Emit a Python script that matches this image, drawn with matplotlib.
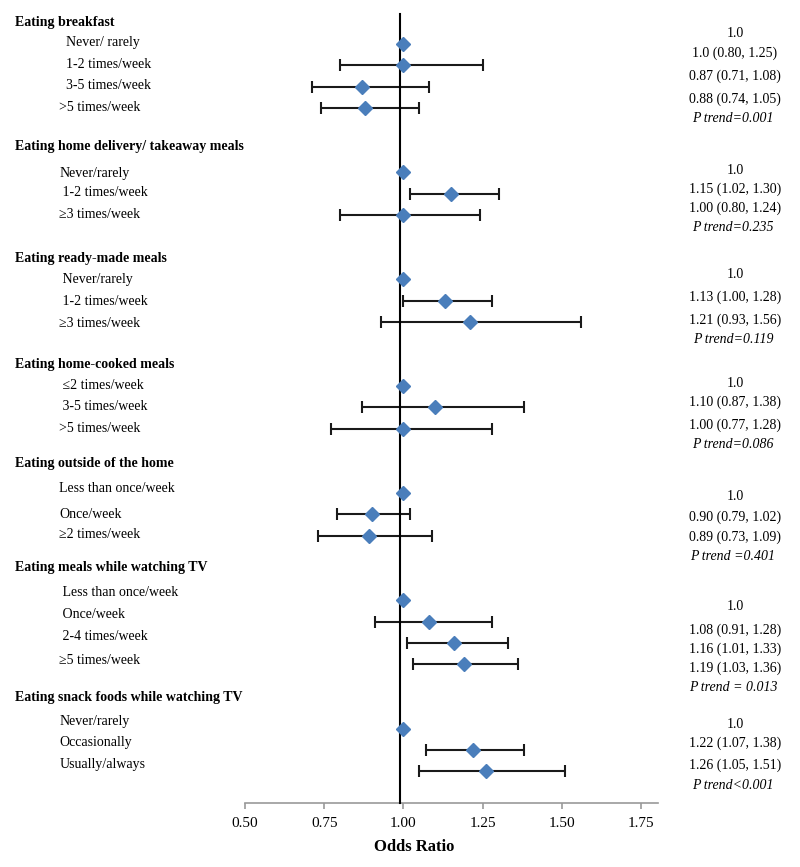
import matplotlib
matplotlib.use("Agg")
import matplotlib.pyplot as plt
from matplotlib.transforms import blended_transform_factory

plt.rcParams['font.family'] = ['Liberation Serif', 'DejaVu Serif']

# ---------------- data ----------------
group_titles = [
    "Eating breakfast",
    "Eating home delivery/ takeaway meals",
    "Eating ready-made meals",
    "Eating home-cooked meals",
    "Eating outside of the home",
    "Eating meals while watching TV",
    "Eating snack foods while watching TV",
]

row_labels = [
    ["  Never/ rarely", "  1-2 times/week", "  3-5 times/week", ">5 times/week"],
    ["Never/rarely", " 1-2 times/week", "\u22653 times/week"],
    [" Never/rarely", " 1-2 times/week", "\u22653 times/week"],
    [" \u22642 times/week", " 3-5 times/week", ">5 times/week"],
    ["Less than once/week", "Once/week", "\u22652 times/week"],
    [" Less than once/week", " Once/week", " 2-4 times/week", "\u22655 times/week"],
    ["Never/rarely", "Occasionally", "Usually/always"],
]

odds_ratio = [
    [1.0, 1.0, 0.87, 0.88],
    [1.0, 1.15, 1.00],
    [1.0, 1.13, 1.21],
    [1.0, 1.10, 1.00],
    [1.0, 0.90, 0.89],
    [1.0, 1.08, 1.16, 1.19],
    [1.0, 1.22, 1.26],
]
ci_low = [
    [None, 0.80, 0.71, 0.74],
    [None, 1.02, 0.80],
    [None, 1.00, 0.93],
    [None, 0.87, 0.77],
    [None, 0.79, 0.73],
    [None, 0.91, 1.01, 1.03],
    [None, 1.07, 1.05],
]
ci_high = [
    [None, 1.25, 1.08, 1.05],
    [None, 1.30, 1.24],
    [None, 1.28, 1.56],
    [None, 1.38, 1.28],
    [None, 1.02, 1.09],
    [None, 1.28, 1.33, 1.36],
    [None, 1.38, 1.51],
]
estimate_texts = [
    ["1.0", "1.0 (0.80, 1.25)", "0.87 (0.71, 1.08)", "0.88 (0.74, 1.05)"],
    ["1.0", "1.15 (1.02, 1.30)", "1.00 (0.80, 1.24)"],
    ["1.0", "1.13 (1.00, 1.28)", "1.21 (0.93, 1.56)"],
    ["1.0", "1.10 (0.87, 1.38)", "1.00 (0.77, 1.28)"],
    ["1.0", "0.90 (0.79, 1.02)", "0.89 (0.73, 1.09)"],
    ["1.0", "1.08 (0.91, 1.28)", "1.16 (1.01, 1.33)", "1.19 (1.03, 1.36)"],
    ["1.0", "1.22 (1.07, 1.38)", "1.26 (1.05, 1.51)"],
]
p_trend = [
    "P trend=0.001",
    "P trend=0.235",
    "P trend=0.119",
    "P trend=0.086",
    "P trend =0.401",
    "P trend = 0.013",
    "P trend<0.001",
]
x_ticks = [0.50, 0.75, 1.00, 1.25, 1.50, 1.75]
x_label = "Odds Ratio"

# ---------------- layout (vertical positions, in pixels from top) ----------------
title_y = [22.7, 146.7, 258.3, 364.3, 464.0, 567.3, 697.7]
label_y = [
    [42.3, 64.0, 85.7, 107.3],
    [173.3, 192.7, 214.3],
    [280.0, 301.7, 323.3],
    [385.7, 406.7, 429.0],
    [489.0, 514.3, 535.0],
    [592.7, 614.3, 636.0, 661.0],
    [721.0, 742.7, 764.3],
]
marker_y = [
    [44.3, 65.3, 87.3, 108.3],
    [172.3, 193.7, 215.0],
    [279.0, 300.7, 322.0],
    [386.0, 407.3, 429.3],
    [493.3, 514.3, 535.7],
    [600.0, 621.7, 643.0, 664.3],
    [729.0, 749.7, 771.3],
]
est_y = [
    [33.3, 53.3, 76.7, 99.3],
    [170.0, 189.3, 208.7],
    [274.0, 297.7, 320.7],
    [383.3, 402.7, 425.7],
    [496.0, 517.7, 537.7],
    [606.0, 630.0, 649.0, 668.3],
    [724.3, 743.7, 765.7],
]
p_y = [119.0, 227.7, 339.3, 444.7, 556.7, 687.3, 785.3]

W, H = 800, 867
fig = plt.figure(figsize=(W / 100, H / 100), dpi=100)
axis_y = 803.0
ax = fig.add_axes([245.0 / W, (H - axis_y) / H, 413.0 / W, axis_y / H])
ax.set_xlim(0.5, 1.803)
ax.set_ylim(axis_y, 0)

blue = "#4A7EBB"
for g in range(len(group_titles)):
    for i in range(len(odds_ratio[g])):
        o = odds_ratio[g][i]
        y = marker_y[g][i]
        lo, hi = ci_low[g][i], ci_high[g][i]
        if lo is not None:
            ax.errorbar([o], [y], xerr=[[o - lo], [hi - o]], fmt='none',
                        ecolor="#1a1a1a", elinewidth=1.5, capsize=4.2,
                        capthick=1.5, zorder=2)
        ax.plot([o], [y], marker='D', markersize=7.6, color=blue,
                markeredgecolor=blue, linestyle='none', zorder=4)

# reference line
ax.plot([0.99, 0.99], [14, axis_y], color="black", linewidth=1.5, zorder=3,
        clip_on=False)

# axes styling
for s in ["top", "right", "left"]:
    ax.spines[s].set_visible(False)
ax.spines["bottom"].set_color("#999999")
ax.spines["bottom"].set_linewidth(1.2)
ax.set_yticks([])
ax.set_xticks(x_ticks)
ax.set_xticklabels(["%.2f" % t for t in x_ticks], fontsize=11)
ax.tick_params(axis='x', colors="#999999", length=4, width=1.2, labelcolor="black", pad=6)
ax.patch.set_alpha(0)

fig.text(414.0 / W, 1 - 847.0 / H, x_label, fontsize=12, fontweight='bold',
         ha='center', va='center')

tr = blended_transform_factory(fig.transFigure, ax.transData)
for g in range(len(group_titles)):
    ax.text(15.0 / W, title_y[g], group_titles[g], transform=tr, fontsize=10,
            fontweight='bold', ha='left', va='center', clip_on=False)
    for i, lab in enumerate(row_labels[g]):
        ax.text(59.3 / W, label_y[g][i], lab, transform=tr, fontsize=10,
                ha='left', va='center', clip_on=False)
    for i, t in enumerate(estimate_texts[g]):
        ax.text(735.0 / W, est_y[g][i], t, transform=tr, fontsize=10,
                ha='center', va='center', clip_on=False)
    ax.text(733.0 / W, p_y[g], p_trend[g], transform=tr, fontsize=10,
            style='italic', ha='center', va='center', clip_on=False)

fig.savefig("out.png", dpi=100)
